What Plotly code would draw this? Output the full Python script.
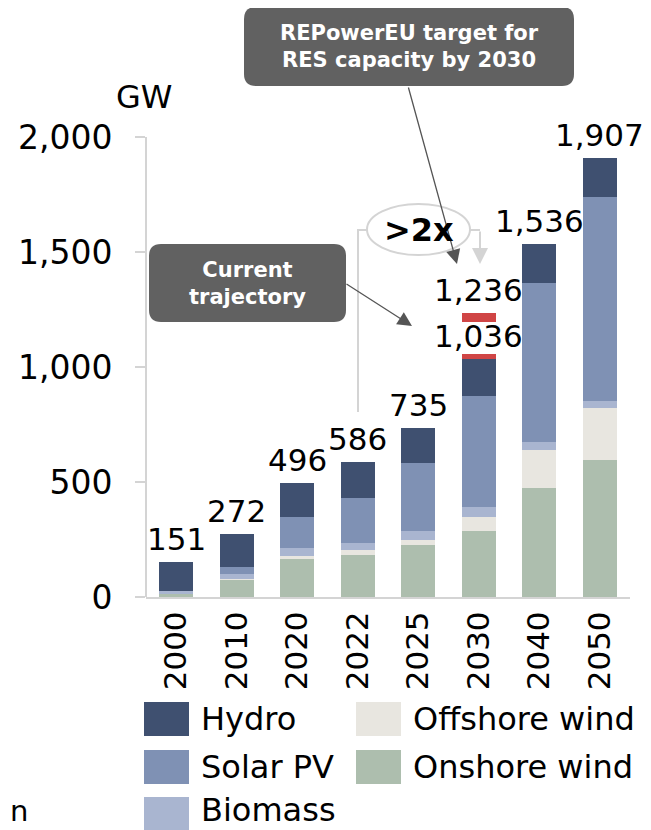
import plotly.graph_objects as go

years = ["2000", "2010", "2020", "2022", "2025", "2030", "2040", "2050"]
onshore = [12, 77, 164, 184, 225, 288, 475, 594]
offshore = [0, 2, 14, 19, 25, 61, 164, 227]
biomass = [12, 22, 33, 33, 39, 42, 33, 30]
solar = [0, 30, 136, 196, 294, 485, 693, 886]
hydro = [127, 141, 149, 154, 152, 160, 171, 170]

target_year = "2030"
target_base = [1036, 1195]
target_height = [19, 41]
target_total = 1236

series = [
    ("Onshore wind", onshore, "#adbeae"),
    ("Offshore wind", offshore, "#e8e6e0"),
    ("Biomass", biomass, "#a9b5d0"),
    ("Solar PV", solar, "#7f91b4"),
    ("Hydro", hydro, "#3f5070"),
]
totals = [sum(v) for v in zip(onshore, offshore, biomass, solar, hydro)]
xpos = list(range(len(years)))
tx = years.index(target_year)

FONT = "Verdana, DejaVu Sans, sans-serif"
# the page body adds an 8px offset, so the figure is laid out in screen pixels minus OFF
OFF = 8
W, H = 651 - OFF, 830 - OFF
L, R, T = 146 - OFF, 21, 0
PH = 597 - OFF
B = H - PH
PW = W - L - R
YMAX = PH / 0.23


def fx(px):
    return (px - OFF - L) / PW


def fy(py):
    return (PH - (py - OFF)) / PH


def rrect(x0, y0, x1, y1, r):
    pts = [
        ("M", [(x0 + r, y0)]), ("L", [(x1 - r, y0)]), ("Q", [(x1, y0), (x1, y0 + r)]),
        ("L", [(x1, y1 - r)]), ("Q", [(x1, y1), (x1 - r, y1)]), ("L", [(x0 + r, y1)]),
        ("Q", [(x0, y1), (x0, y1 - r)]), ("L", [(x0, y0 + r)]), ("Q", [(x0, y0), (x0 + r, y0)]),
    ]
    s = ""
    for cmd, ps in pts:
        s += cmd + " ".join(f"{fx(a):.5f},{fy(b):.5f}" for a, b in ps) + " "
    return s + "Z"


def label(px, py, text, size=30, color="black", xanchor="center"):
    return dict(xref="paper", yref="paper", x=fx(px), y=fy(py), text=text, showarrow=False,
                xanchor=xanchor, yanchor="middle", font=dict(size=size, color=color, family=FONT))


def arrow(hx, hy, tx_, ty_, color, width, size):
    return dict(xref="paper", yref="paper", x=fx(hx), y=fy(hy), ax=tx_ - hx, ay=ty_ - hy, text="",
                showarrow=True, arrowhead=2, arrowsize=size, arrowwidth=width, arrowcolor=color)


fig = go.Figure()
for name, vals, color in series:
    fig.add_trace(go.Bar(x=xpos, y=vals, name=name, marker=dict(color=color, line=dict(width=0))))

fig.add_trace(go.Bar(x=[tx] * 2, y=target_height, base=target_base, width=0.563,
                     marker=dict(color="#d04545", line=dict(width=0)), name="Target"))

shapes = []
annotations = []

# total labels
for i, tot in zip(xpos, totals):
    annotations.append(dict(x=i, y=tot, text=f"{tot:,}", showarrow=False, xanchor="center",
                            yanchor="bottom", yshift=3, font=dict(size=31, color="black", family=FONT)))
annotations.append(dict(x=tx, y=target_base[1] + target_height[1], text=f"{target_total:,}",
                        showarrow=False, xanchor="center", yanchor="bottom", yshift=3,
                        font=dict(size=31, color="black", family=FONT)))

# y axis line
shapes.append(dict(type="line", xref="paper", yref="y", x0=0, x1=0, y0=0, y1=2000,
                   line=dict(color="#d4d4d4", width=2)))

# callout boxes
shapes.append(dict(type="path", xref="paper", yref="paper", path=rrect(244, 7, 574, 86, 12),
                   fillcolor="#616161", line=dict(width=0)))
annotations.append(label(409, 47, "<b>REPowerEU target for<br>RES capacity by 2030</b>", 21, "white"))
shapes.append(dict(type="path", xref="paper", yref="paper", path=rrect(149, 244, 346, 322, 12),
                   fillcolor="#616161", line=dict(width=0)))
annotations.append(label(247.5, 283, "<b>Current<br>trajectory</b>", 21, "white"))

# arrows
annotations.append(arrow(457, 264, 408, 86, "#555555", 1.3, 2.2))
annotations.append(arrow(412, 326, 345, 283, "#555555", 1.3, 2.2))

# bracket and ellipse
shapes.append(dict(type="path", xref="paper", yref="paper",
                   path=f"M{fx(358)},{fy(412)} L{fx(358)},{fy(230)} L{fx(368)},{fy(230)}",
                   line=dict(color="#d4d4d4", width=2)))
shapes.append(dict(type="line", xref="paper", yref="paper", x0=fx(469), x1=fx(480), y0=fy(230), y1=fy(230),
                   line=dict(color="#d4d4d4", width=2)))
annotations.append(arrow(480, 264, 480, 230, "#d4d4d4", 2, 1.6))
shapes.append(dict(type="circle", xref="paper", yref="paper", x0=fx(367), x1=fx(470), y0=fy(255), y1=fy(204),
                   fillcolor="white", line=dict(color="#d4d4d4", width=2)))
annotations.append(label(419, 230, "<b>>2x</b>", 32))

# unit label and clipped footnote
annotations.append(label(144, 97, "GW", 32))
annotations.append(label(8, 811, "n", 29, xanchor="left"))

# custom legend
legend_items = [("Hydro", 0, 0), ("Solar PV", 0, 1), ("Biomass", 0, 2),
                ("Offshore wind", 1, 0), ("Onshore wind", 1, 1)]
colors = {n: c for n, _, c in series}
col_x = [144, 356]
row_y = [702, 750, 797]
for name, col, row in legend_items:
    x0, y0 = col_x[col], row_y[row]
    shapes.append(dict(type="rect", xref="paper", yref="paper", x0=fx(x0), x1=fx(x0 + 45),
                       y0=fy(y0), y1=fy(y0 + 34), fillcolor=colors[name], line=dict(width=0)))
    ty = min(y0 + 17, 810)
    annotations.append(label(x0 + 55, ty, name, 32, xanchor="left"))

fig.update_layout(
    width=W, height=H,
    margin=dict(l=L, r=R, t=T, b=B),
    barmode="stack",
    bargap=0.437,
    showlegend=False,
    plot_bgcolor="white",
    paper_bgcolor="white",
    font=dict(family=FONT, size=30, color="black"),
    shapes=shapes,
    annotations=annotations,
)
fig.update_xaxes(range=[-0.5, len(years) - 0.5], tickvals=xpos, ticktext=years, tickangle=-90,
                 showline=True, linecolor="#d4d4d4", linewidth=2, ticks="", ticklabelstandoff=0,
                 automargin=False, tickfont=dict(size=31, family=FONT))
fig.update_yaxes(range=[0, YMAX], tickvals=[0, 500, 1000, 1500, 2000], tickformat=",",
                 showgrid=False, zeroline=False, showline=False, ticks="outside", ticklen=10,
                 tickwidth=2, tickcolor="#d4d4d4", ticklabelstandoff=16, automargin=False,
                 tickfont=dict(size=33, family=FONT))

fig.write_html("out.html")
